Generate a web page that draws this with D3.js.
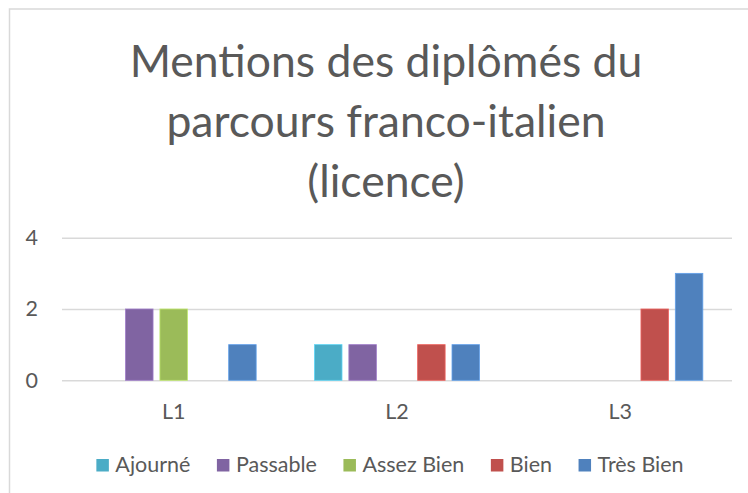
<!DOCTYPE html>
<html>
<head>
<meta charset="utf-8">
<script src="https://cdn.jsdelivr.net/npm/d3@7"></script>
<style>
    body { margin: 0; background: #fff; }
    svg { display: block; font-family: Lato, "Liberation Sans", sans-serif; }
</style>
</head>
<body>
<svg id="chart" width="748" height="493"></svg>
<script>
var categories = ["L1", "L2", "L3"];
var series = ["Ajourné", "Passable", "Assez Bien", "Bien", "Très Bien"];
var ajourne = [0, 1, 0];
var passable = [2, 1, 0];
var assezBien = [2, 0, 0];
var bien = [0, 1, 2];
var tresBien = [1, 1, 3];
var yTicks = [0, 2, 4];
var titleLines = ["Mentions des diplômés du", "parcours franco-italien", "(licence)"];

var values = [ajourne, passable, assezBien, bien, tresBien];
var colors = ["#4BACC6", "#8064A2", "#9BBB59", "#C0504D", "#4F81BD"];
var textColor = "#595959";

var svg = d3.select('#chart');

// chart frame
svg.append("rect")
    .attr("x", 9.5).attr("y", 9)
    .attr("width", 760).attr("height", 500)
    .attr("fill", "none")
    .attr("stroke", "#d9d9d9")
    .attr("stroke-width", 1.5);

// title
svg.append("text")
    .attr("text-anchor", "middle")
    .attr("fill", textColor)
    .style("font-size", "44.5px")
    .selectAll("tspan")
    .data(titleLines)
    .enter().append("tspan")
    .attr("x", 386)
    .attr("y", function (d, i) { return 77 + i * 60; })
    .text(function (d) { return d; });

var x0 = d3.scaleBand().domain(categories).range([62, 732]);
var groupW = 165;
var x1 = d3.scaleBand().domain(series)
    .range([(x0.bandwidth() - groupW) / 2, (x0.bandwidth() + groupW) / 2])
    .paddingInner(0.2);
var y = d3.scaleLinear().domain([0, 4]).range([380.3, 237.7]);

// gridlines + y labels
var yAxis = svg.append("g")
    .attr("transform", "translate(62,0)")
    .call(d3.axisLeft(y).tickValues(yTicks).tickFormat(d3.format("d"))
        .tickSize(-670).tickPadding(24));
yAxis.select(".domain").remove();
yAxis.selectAll("line").attr("stroke", "#d9d9d9").attr("stroke-width", 1.5);
yAxis.selectAll("text")
    .attr("fill", textColor)
    .style("font-size", "21.5px")
    .style("font-family", "Lato, sans-serif");

// x labels
var xAxis = svg.append("g")
    .attr("transform", "translate(0,380.3)")
    .call(d3.axisBottom(x0).tickSize(0).tickPadding(23));
xAxis.select(".domain").remove();
xAxis.selectAll("text")
    .attr("fill", textColor)
    .style("font-size", "21.5px")
    .style("font-family", "Lato, sans-serif");

// bars
var groups = svg.append("g").selectAll("g")
    .data(categories)
    .enter().append("g")
    .attr("transform", function (d) { return "translate(" + x0(d) + ",0)"; });

groups.selectAll("rect")
    .data(function (d, ci) {
        return series.map(function (s, si) {
            return { s: s, si: si, v: values[si][ci] };
        });
    })
    .enter().filter(function (d) { return d.v > 0; })
    .append("rect")
    .attr("x", function (d) { return x1(d.s); })
    .attr("y", function (d) { return y(d.v); })
    .attr("width", x1.bandwidth())
    .attr("height", function (d) { return y(0) - y(d.v); })
    .attr("fill", function (d) { return colors[d.si]; })
    .attr("stroke", function (d) { return d3.color(colors[d.si]).brighter(0.6); })
    .attr("stroke-width", 0.8);

// legend
var legend = svg.append("g");
var items = legend.selectAll("g")
    .data(series)
    .enter().append("g");
items.append("rect")
    .attr("width", 12.5).attr("height", 12.5)
    .attr("y", 459)
    .attr("fill", function (d, i) { return colors[i]; });
items.append("text")
    .attr("x", 19)
    .attr("y", 472)
    .attr("fill", textColor)
    .style("font-size", "21.5px")
    .text(function (d) { return d; });

var offs = [];
var pos = 0;
items.each(function () {
    var w = d3.select(this).select("text").node().getComputedTextLength();
    offs.push(pos);
    pos += 19 + w + 26.5;
});
var total = pos - 26.5;
var start = 390 - total / 2;
items.attr("transform", function (d, i) { return "translate(" + (start + offs[i]) + ",0)"; });
</script>
</body>
</html>
